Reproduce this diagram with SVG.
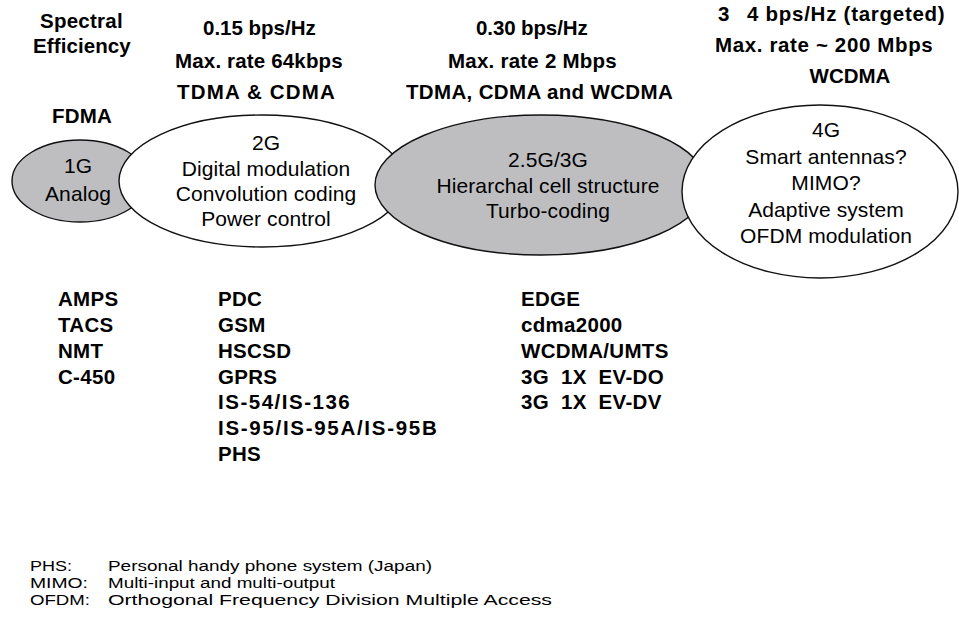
<svg xmlns="http://www.w3.org/2000/svg" width="959" height="619" viewBox="0 0 959 619">
<style>
  .bg{fill:#ffffff}
  .gray{fill:#bebec0;stroke:#111;stroke-width:1.4}
  .white{fill:#ffffff;stroke:#111;stroke-width:1.4}
  .b{font-family:"Liberation Sans",Arial,Helvetica,sans-serif;font-weight:bold;font-size:20.5px;fill:#000;letter-spacing:0.3px}
  .r{font-family:"Liberation Sans",Arial,Helvetica,sans-serif;font-size:21px;fill:#000;text-anchor:middle;letter-spacing:0.1px}
  .l{font-family:"Liberation Sans",Arial,Helvetica,sans-serif;font-size:15.5px;fill:#000}
</style>
<rect class="bg" x="0" y="0" width="959" height="619"/>

<g id="headers">
  <text class="b" x="40" y="28" textLength="83" lengthAdjust="spacing">Spectral</text>
  <text class="b" x="33" y="53" textLength="98" lengthAdjust="spacing">Efficiency</text>
  <text class="b" x="52" y="123" textLength="60" lengthAdjust="spacing">FDMA</text>
  <text class="b" x="203" y="35" textLength="113" lengthAdjust="spacing">0.15 bps/Hz</text>
  <text class="b" x="175" y="68" textLength="168" lengthAdjust="spacing">Max. rate 64kbps</text>
  <text class="b" x="177" y="99" textLength="158" lengthAdjust="spacing">TDMA &amp; CDMA</text>
  <text class="b" x="476" y="35" textLength="112" lengthAdjust="spacing">0.30 bps/Hz</text>
  <text class="b" x="448" y="68" textLength="169" lengthAdjust="spacing">Max. rate 2 Mbps</text>
  <text class="b" x="406" y="99" textLength="267" lengthAdjust="spacing">TDMA, CDMA and WCDMA</text>
  <text class="b" x="718" y="21">3</text>
  <text class="b" x="747" y="21" textLength="198" lengthAdjust="spacing">4 bps/Hz (targeted)</text>
  <text class="b" x="715" y="52" textLength="218" lengthAdjust="spacing">Max. rate ~ 200 Mbps</text>
  <text class="b" x="850" y="83" style="text-anchor:middle;letter-spacing:0">WCDMA</text>
</g>

<g id="node-1g">
  <ellipse class="gray" cx="80" cy="181" rx="68" ry="41"/>
  <text class="r" x="78" y="173">1G</text>
  <text class="r" x="78" y="201">Analog</text>
</g>

<g id="node-2g">
  <ellipse class="white" cx="262" cy="181" rx="143" ry="66"/>
  <text class="r" x="266" y="150">2G</text>
  <text class="r" x="266" y="176">Digital modulation</text>
  <text class="r" x="266" y="201">Convolution coding</text>
  <text class="r" x="266" y="226">Power control</text>
</g>

<g id="node-3g">
  <ellipse class="gray" cx="541" cy="185" rx="166" ry="70"/>
  <text class="r" x="548" y="167">2.5G/3G</text>
  <text class="r" x="548" y="192.5">Hierarchal cell structure</text>
  <text class="r" x="548" y="218">Turbo-coding</text>
</g>

<g id="node-4g">
  <ellipse class="white" cx="820" cy="191.5" rx="138" ry="86.5"/>
  <text class="r" x="826" y="137">4G</text>
  <text class="r" x="826" y="163.5">Smart antennas?</text>
  <text class="r" x="826" y="190">MIMO?</text>
  <text class="r" x="826" y="216.5">Adaptive system</text>
  <text class="r" x="826" y="243">OFDM modulation</text>
</g>

<g id="list-1g">
  <text class="b" x="58" y="306">AMPS</text>
  <text class="b" x="58" y="332">TACS</text>
  <text class="b" x="58" y="358">NMT</text>
  <text class="b" x="58" y="383.5">C-450</text>
</g>

<g id="list-2g">
  <text class="b" x="218" y="306">PDC</text>
  <text class="b" x="218" y="332">GSM</text>
  <text class="b" x="218" y="358">HSCSD</text>
  <text class="b" x="218" y="383.5">GPRS</text>
  <text class="b" x="218" y="409" textLength="132" lengthAdjust="spacing">IS-54/IS-136</text>
  <text class="b" x="218" y="435" textLength="219" lengthAdjust="spacing">IS-95/IS-95A/IS-95B</text>
  <text class="b" x="218" y="461">PHS</text>
</g>

<g id="list-3g">
  <text class="b" x="521" y="306">EDGE</text>
  <text class="b" x="521" y="332">cdma2000</text>
  <text class="b" x="521" y="358">WCDMA/UMTS</text>
  <text class="b" x="521" y="383.5" style="white-space:pre">3G  1X  EV-DO</text>
  <text class="b" x="521" y="409" style="white-space:pre">3G  1X  EV-DV</text>
</g>

<g id="legend">
  <text class="l" x="30" y="570.5" textLength="42" lengthAdjust="spacingAndGlyphs">PHS:</text>
  <text class="l" x="108" y="570.5" textLength="324" lengthAdjust="spacingAndGlyphs">Personal handy phone system (Japan)</text>
  <text class="l" x="30" y="588" textLength="58" lengthAdjust="spacingAndGlyphs">MIMO:</text>
  <text class="l" x="108" y="588" textLength="227" lengthAdjust="spacingAndGlyphs">Multi-input and multi-output</text>
  <text class="l" x="30" y="605" textLength="60" lengthAdjust="spacingAndGlyphs">OFDM:</text>
  <text class="l" x="108" y="605" textLength="444" lengthAdjust="spacingAndGlyphs">Orthogonal Frequency Division Multiple Access</text>
</g>
</svg>
